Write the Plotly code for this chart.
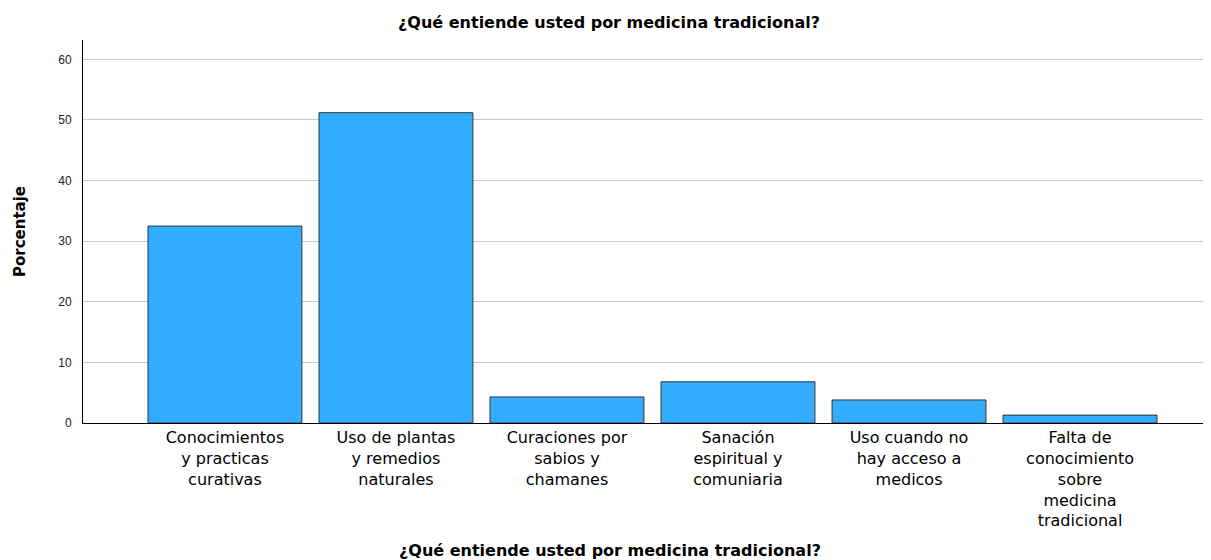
import plotly.graph_objects as go

categories = [
    "Conocimientos<br>y practicas<br>curativas",
    "Uso de plantas<br>y remedios<br>naturales",
    "Curaciones por<br>sabios y<br>chamanes",
    "Sanación<br>espiritual y<br>comuniaria",
    "Uso cuando no<br>hay acceso a<br>medicos",
    "Falta de<br>conocimiento<br>sobre<br>medicina<br>tradicional",
]
percentages = [32.5, 51.2, 4.3, 6.8, 3.8, 1.3]
y_ticks = [0, 10, 20, 30, 40, 50, 60]

title_text = "¿Qué entiende usted por medicina tradicional?"
y_title = "Porcentaje"

# page has an 8px body margin; figure coordinates = page coordinates - 8
OFF = 8
W, H = 1211 - OFF, 560 - OFF
L, R, T = 83 - OFF, 1, 40 - OFF
plot_bottom = 423 - OFF
B = H - plot_bottom
pw, ph = W - L - R, plot_bottom - T

fig = go.Figure(
    go.Bar(
        x=categories,
        y=percentages,
        marker=dict(color="#33adff", line=dict(color="#333333", width=1)),
        width=0.9,
    )
)

fig.update_layout(
    width=W,
    height=H,
    margin=dict(l=L, r=R, t=T, b=B),
    paper_bgcolor="white",
    plot_bgcolor="white",
    showlegend=False,
    font=dict(family="Liberation Sans, Arial, sans-serif", color="black"),
    title=dict(
        text="<b>" + title_text + "</b>",
        x=(609 - OFF) / W,
        xanchor="center",
        y=1 - (22 - OFF) / H,
        yanchor="middle",
        yref="container",
        font=dict(size=16, family="DejaVu Sans, sans-serif", color="black"),
    ),
    xaxis=dict(
        type="category",
        range=[-0.83, 5.76],
        showline=True,
        linecolor="black",
        linewidth=1,
        showgrid=False,
        ticks="",
        tickfont=dict(size=16, family="DejaVu Sans, sans-serif", color="black"),
    ),
    yaxis=dict(
        range=[0, 63.2],
        tickvals=y_ticks,
        showline=True,
        linecolor="black",
        linewidth=1,
        showgrid=True,
        gridcolor="#c8c8c8",
        gridwidth=1,
        zeroline=False,
        ticks="",
        ticklabelstandoff=8,
        tickfont=dict(size=12, color="#222222"),
    ),
    annotations=[
        dict(
            text="<b>" + title_text + "</b>",
            xref="paper",
            yref="paper",
            x=(610 - 83) / pw,
            y=-(550 - 423) / ph,
            xanchor="center",
            yanchor="middle",
            showarrow=False,
            font=dict(size=16, family="DejaVu Sans, sans-serif", color="black"),
        ),
        dict(
            text="<b>" + y_title + "</b>",
            xref="paper",
            yref="paper",
            x=(20 - 83) / pw,
            y=(423 - 232) / ph,
            xanchor="center",
            yanchor="middle",
            textangle=-90,
            showarrow=False,
            font=dict(size=15, family="DejaVu Sans, sans-serif", color="black"),
        ),
    ],
)

fig.write_html("out.html")
